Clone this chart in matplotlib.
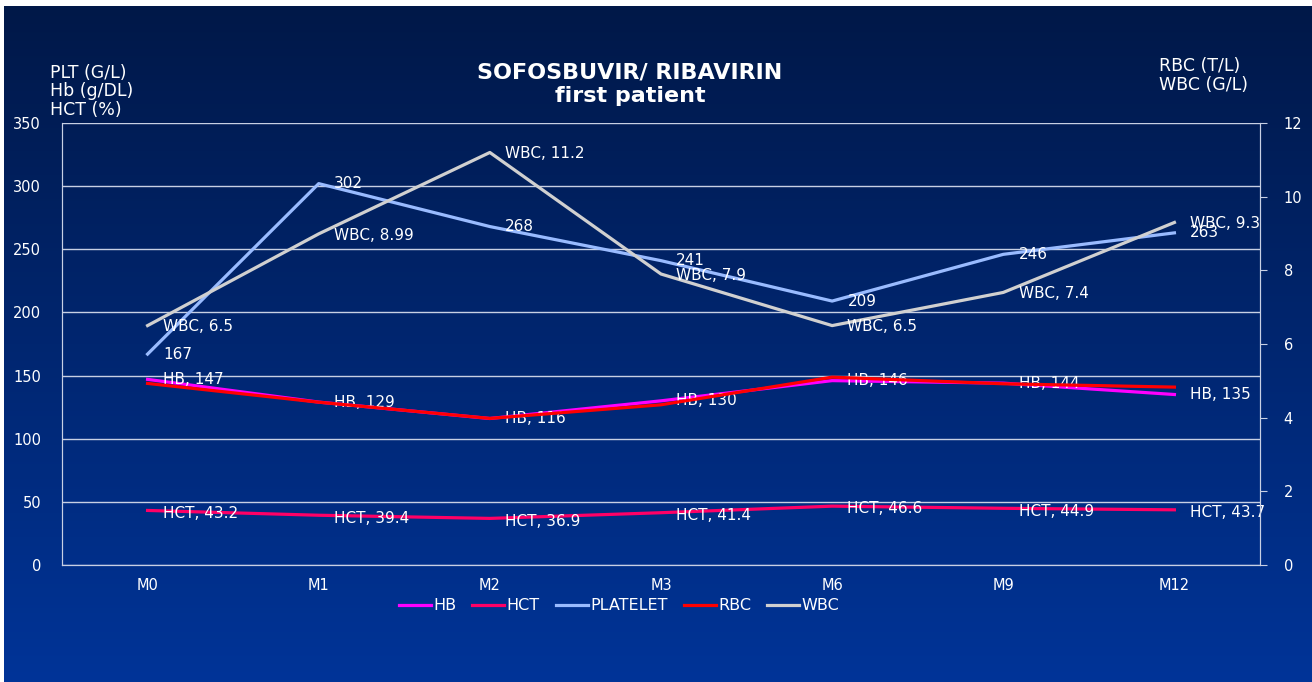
import numpy as np
import matplotlib
matplotlib.use("Agg")
import matplotlib.pyplot as plt

plt.rcParams['font.family'] = ['DejaVu Sans']

months = ["M0", "M1", "M2", "M3", "M6", "M9", "M12"]
hb = [147, 129, 116, 130, 146, 144, 135]
hct = [43.2, 39.4, 36.9, 41.4, 46.6, 44.9, 43.7]
platelet = [167, 302, 268, 241, 209, 246, 263]
rbc = [4.93, 4.42, 3.98, 4.35, 5.10, 4.92, 4.83]
wbc = [6.5, 8.99, 11.2, 7.9, 6.5, 7.4, 9.3]

fig = plt.figure(figsize=(13.12, 6.82), dpi=100)

# gradient background with thin white margin top/left
bg = fig.add_axes([4 / 1312, 0, 1 - 4 / 1312, 1 - 6 / 682])
grad = np.linspace(0, 1, 256).reshape(-1, 1)
top = np.array([0, 24, 72]) / 255
bot = np.array([0, 52, 152]) / 255
img = top + (bot - top) * grad[:, :, None]
bg.imshow(img, aspect='auto', extent=[0, 1, 0, 1])
bg.axis('off')

ax = fig.add_axes([62 / 1312, 117 / 682, 1198 / 1312, 442 / 682])
ax.patch.set_alpha(0)
ax2 = ax.twinx()

x = np.arange(len(months))
lw = 2.3
l_hb, = ax.plot(x, hb, color='#ff00ff', lw=lw, label='HB')
l_hct, = ax.plot(x, hct, color='#ff0066', lw=lw, label='HCT')
l_plt, = ax.plot(x, platelet, color='#99bbff', lw=lw, label='PLATELET')
l_rbc, = ax2.plot(x, rbc, color='#ff0000', lw=lw, label='RBC')
l_wbc, = ax2.plot(x, wbc, color='#d0d0d0', lw=lw, label='WBC')

lbl = dict(color='white', fontsize=11, va='center', ha='left')
for i in range(len(months)):
    ax.annotate(f"HB, {hb[i]}", (x[i], hb[i]), xytext=(11, 0), textcoords='offset points', **lbl)
    ax.annotate(f"HCT, {hct[i]}", (x[i], hct[i]), xytext=(11, -2), textcoords='offset points', **lbl)
    ax.annotate(f"{platelet[i]}", (x[i], platelet[i]), xytext=(11, 0), textcoords='offset points', **lbl)
    ax2.annotate(f"WBC, {wbc[i]}", (x[i], wbc[i]), xytext=(11, -1), textcoords='offset points', **lbl)

ax.set_xlim(-0.5, len(months) - 0.5)
ax.set_ylim(0, 350)
ax.set_yticks(range(0, 351, 50))
ax2.set_ylim(0, 12)
ax2.set_yticks(range(0, 13, 2))
ax.set_xticks(x)
ax.set_xticklabels(months)

ax.grid(axis='y', color='#c8d0e4', lw=1)
ax.set_axisbelow(True)
for a in (ax, ax2):
    for s in a.spines.values():
        s.set_color('#c8d0e4')
    a.spines['top'].set_visible(False)
ax.tick_params(axis='y', length=0, pad=15, colors='white', labelsize=10.5)
ax.tick_params(axis='x', length=0, pad=9, colors='white', labelsize=10.5)
ax2.tick_params(axis='y', length=5, pad=12, colors='#c8d0e4', labelcolor='white', labelsize=10.5)

fig.text(630 / 1312, 1 - 73 / 682, "SOFOSBUVIR/ RIBAVIRIN", color='white',
         fontsize=16, fontweight='bold', ha='center', va='center')
fig.text(630 / 1312, 1 - 96 / 682, "first patient", color='white',
         fontsize=16, fontweight='bold', ha='center', va='center')
for k, t in enumerate(["PLT (G/L)", "Hb (g/DL)", "HCT (%)"]):
    fig.text(50 / 1312, 1 - (73 + 18.5 * k) / 682, t, color='white',
             fontsize=12.5, ha='left', va='center')
for k, t in enumerate(["RBC (T/L)", "WBC (G/L)"]):
    fig.text(1159 / 1312, 1 - (66 + 18.5 * k) / 682, t, color='white',
             fontsize=12.5, ha='left', va='center')

fig.legend(handles=[l_hb, l_hct, l_plt, l_rbc, l_wbc], loc='center', ncol=5,
           bbox_to_anchor=(619 / 1312, 1 - 606 / 682), frameon=False, fontsize=11.5,
           labelcolor='white', handlelength=2.0, handletextpad=0.15, columnspacing=1.0)

fig.savefig('out.png', dpi=100)
